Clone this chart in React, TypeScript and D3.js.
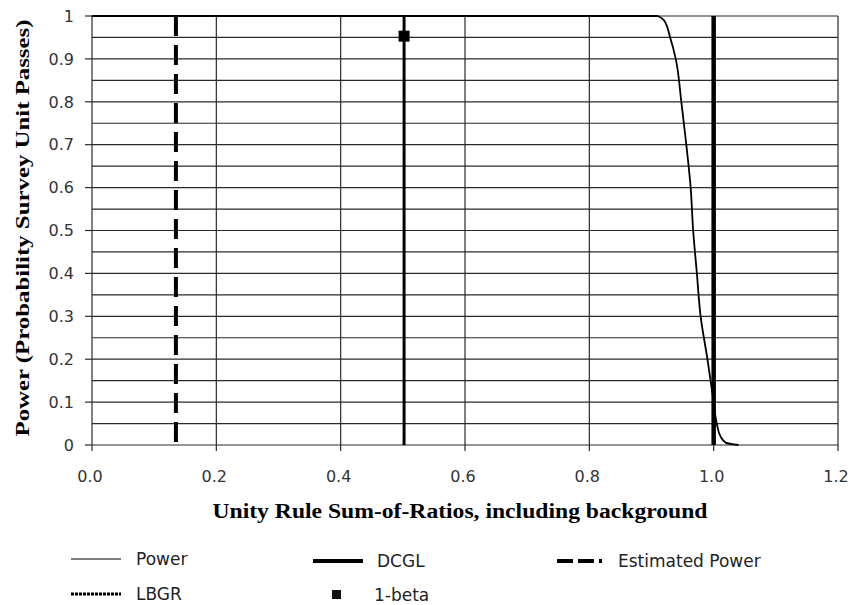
import * as d3 from "d3";

// Power curve: unity rule sum-of-ratios vs probability of passing
const powerX = [0, 0.91, 0.92, 0.93, 0.939, 0.948, 0.956, 0.963, 0.967, 0.973, 0.979, 0.99, 1.0, 1.005, 1.011, 1.02, 1.04];
const powerY = [1, 1, 0.99, 0.95, 0.9, 0.8, 0.7, 0.6, 0.5, 0.4, 0.3, 0.2, 0.1, 0.05, 0.02, 0.005, 0];

const estimatedPowerX = 0.135;
const lbgrX = 0.502;
const dcglX = 1.0;
const oneBeta = { x: 0.502, y: 0.953 };

const xTicks = [0, 0.2, 0.4, 0.6, 0.8, 1.0, 1.2];
const yTicks = [0, 0.1, 0.2, 0.3, 0.4, 0.5, 0.6, 0.7, 0.8, 0.9, 1];
const yGrid = d3.range(0, 21).map((i) => i * 0.05);

const W = 852;
const H = 605;

export default function App() {
  const x = d3.scaleLinear().domain([0, 1.2]).range([92, 838]);
  const y = d3.scaleLinear().domain([0, 1]).range([445, 16]);

  const powerData: [number, number][] = powerX.map((v, i) => [v, powerY[i]]);
  const line = d3
    .line<[number, number]>()
    .x((d) => x(d[0]))
    .y((d) => y(d[1]))
    .curve(d3.curveMonotoneY);

  const tickFont = "'DejaVu Sans', Verdana, sans-serif";
  const titleFont = "'Liberation Serif', 'Times New Roman', serif";
  const grid = "#2a2a2a";

  return (
    <svg
      width={W}
      height={H}
      style={{ position: "absolute", left: 0, top: 0, background: "#fff" }}
    >
      {/* horizontal gridlines every 0.05 */}
      {yGrid.map((v) => (
        <line key={"h" + v} x1={x(0)} x2={x(1.2)} y1={y(v)} y2={y(v)} stroke={grid} strokeWidth={1.2} />
      ))}
      {/* vertical gridlines */}
      {xTicks.map((v) => (
        <line key={"v" + v} x1={x(v)} x2={x(v)} y1={y(1)} y2={y(0) + 6} stroke={grid} strokeWidth={1.2} />
      ))}
      {/* y tick marks */}
      {yTicks.map((v) => (
        <line key={"yt" + v} x1={x(0) - 7} x2={x(0)} y1={y(v)} y2={y(v)} stroke={grid} strokeWidth={1.2} />
      ))}

      {/* tick labels */}
      {yTicks.map((v) => (
        <text
          key={"yl" + v}
          x={74}
          y={y(v)}
          dy="0.36em"
          textAnchor="end"
          fontFamily={tickFont}
          fontSize={16}
          fill="#333"
        >
          {v === 0 || v === 1 ? String(v) : v.toFixed(1)}
        </text>
      ))}
      {xTicks.map((v) => (
        <text
          key={"xl" + v}
          x={x(v) - 2}
          y={482}
          textAnchor="middle"
          fontFamily={tickFont}
          fontSize={16}
          fill="#333"
        >
          {v.toFixed(1)}
        </text>
      ))}

      {/* vertical reference lines */}
      <line
        x1={x(estimatedPowerX)}
        x2={x(estimatedPowerX)}
        y1={y(1)}
        y2={y(0)}
        stroke="#000"
        strokeWidth={4}
        strokeDasharray="20,9"
      />
      <line x1={x(lbgrX)} x2={x(lbgrX)} y1={y(1)} y2={y(0)} stroke="#000" strokeWidth={3} />
      <line x1={x(dcglX)} x2={x(dcglX)} y1={y(1)} y2={y(0)} stroke="#000" strokeWidth={4.5} />

      {/* power curve */}
      <path d={line(powerData) ?? ""} fill="none" stroke="#000" strokeWidth={1.8} />

      {/* 1-beta point */}
      <rect x={x(oneBeta.x) - 5.5} y={y(oneBeta.y) - 5.5} width={11} height={11} fill="#000" />

      {/* axis titles */}
      <text
        x={460}
        y={518}
        textAnchor="middle"
        fontFamily={titleFont}
        fontWeight="bold"
        fontSize={20}
        textLength={495}
        lengthAdjust="spacingAndGlyphs"
        fill="#000"
      >
        Unity Rule Sum-of-Ratios, including background
      </text>
      <text
        transform={`translate(29,228) rotate(-90)`}
        textAnchor="middle"
        fontFamily={titleFont}
        fontWeight="bold"
        fontSize={19}
        textLength={417}
        lengthAdjust="spacingAndGlyphs"
        fill="#000"
      >
        Power (Probability Survey Unit Passes)
      </text>

      {/* legend */}
      <g fontFamily={tickFont} fontSize={17} fill="#222">
        <line x1={71} x2={121} y1={559} y2={559} stroke="#000" strokeWidth={1.2} />
        <text x={136} y={559} dy="0.36em">Power</text>

        <line x1={313} x2={363} y1={561} y2={561} stroke="#000" strokeWidth={4} />
        <text x={377} y={561} dy="0.36em">DCGL</text>

        <line x1={557} x2={602} y1={561} y2={561} stroke="#000" strokeWidth={4} strokeDasharray="16,5" />
        <text x={618} y={561} dy="0.36em">Estimated Power</text>

        <line x1={71} x2={121} y1={594} y2={594} stroke="#000" strokeWidth={3} strokeDasharray="3,1" />
        <text x={136} y={594} dy="0.36em">LBGR</text>

        <rect x={332} y={590} width={9} height={9} fill="#111" />
        <text x={374} y={595} dy="0.36em">1-beta</text>
      </g>
    </svg>
  );
}
